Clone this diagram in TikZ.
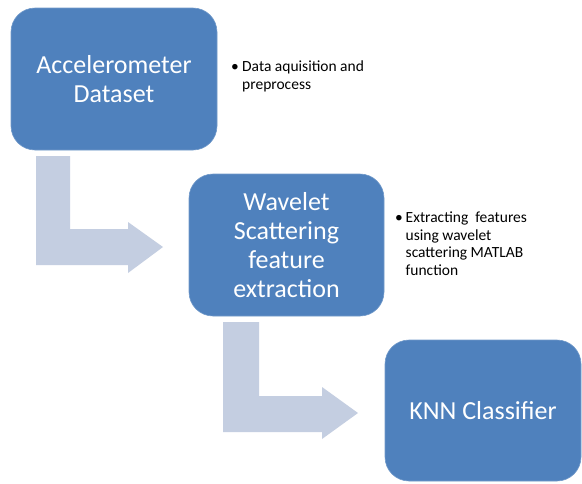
\documentclass[tikz,border=0pt]{standalone}
\usepackage{fontspec}
\setmainfont{Carlito}
\definecolor{boxblue}{HTML}{4F81BD}
\definecolor{arrowblue}{RGB}{196,206,225}
\begin{document}
\begin{tikzpicture}[x=1pt,y=-1pt,
  stagebox/.style={rectangle, rounded corners=24pt, fill=boxblue, draw=boxblue!80!white, line width=0.6pt,
    text=white, align=center, inner sep=0pt,
    font=\fontsize{26}{29}\selectfont},
  bullettext/.style={anchor=north west, align=left, inner sep=0pt, text=black,
    font=\fontsize{15.5}{17.5}\selectfont},
  bentarrow/.style={fill=arrowblue, draw=none}]
\useasboundingbox (0,0) rectangle (582,483);
\fill[white] (0,0) rectangle (582,483);
% arrows
\fill[bentarrow] (36,156) -- (70,156) -- (70,229) -- (128,229) -- (128,222) -- (163,247)
  -- (128,273) -- (128,265) -- (36,265) -- cycle;
\fill[bentarrow] (223,322) -- (259,322) -- (259,396) -- (322,396) -- (322,387) -- (358,413)
  -- (322,439) -- (322,432) -- (223,432) -- cycle;
% boxes
\node[stagebox, minimum width=206pt, minimum height=142pt] (acc) at (114,79) {Accelerometer\\Dataset};
\node[stagebox, minimum width=195pt, minimum height=142pt] (wav) at (286.5,245) {Wavelet\\Scattering\\feature\\extraction};
\node[stagebox, minimum width=196pt, minimum height=141pt] (knn) at (483,410.5) {KNN Classifier};
% bullet texts
\node[bullettext] (b1) at (231,61) {\makebox[11pt][l]{\textbullet}Data aquisition and\\\hspace*{11pt}preprocess};
\node[bullettext] (b2) at (395,212) {\makebox[10.5pt][l]{\textbullet}Extracting\ \ features\\\hspace*{10.5pt}using wavelet\\\hspace*{10.5pt}scattering MATLAB\\\hspace*{10.5pt}function};
\end{tikzpicture}
\end{document}
